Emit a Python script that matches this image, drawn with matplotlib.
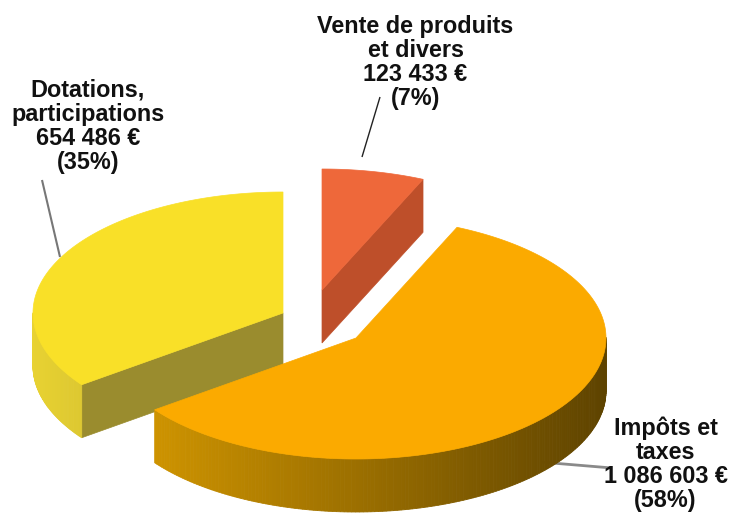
import numpy as np
import matplotlib
matplotlib.use("Agg")
import matplotlib.pyplot as plt
from matplotlib.patches import Polygon
from matplotlib.colors import to_rgb

# Données (sens horaire depuis midi)
categories = ["Vente de produits\net divers", "Impôts et\ntaxes", "Dotations,\nparticipations"]
amounts = [123433, 1086603, 654486]

# Couleurs
top_colors = ["#EE683A", "#FBAA00", "#F9E028"]
side_light = ["#D85A30", "#DA9C00", "#E8D232"]
side_dark = ["#8A3A1E", "#5E4300", "#7A6E1E"]
cut_colors = ["#BE4F2A", "#B07800", "#9A8C2E"]

# Mise en page (pixels) ; y des étiquettes = ligne de base de la dernière ligne
R, RY, DEPTH = 250, 121, 53
centers = [(322, 290), (356, 338), (283, 313)]
label_pos = [(415.5, 105), (665.5, 507), (88, 169)]
leaders = [((380, 97), (362, 157)), ((612, 468), (540, 462)), ((42, 180), (60, 257))]
leader_colors = ["#222222", "#8a8a8a", "#777777"]
leader_widths = [1.0, 2.0, 1.5]


def rim(c, th, dz=0.0):
    return (c[0] + R * np.cos(th), c[1] - RY * np.sin(th) + dz)


def blend(c1, c2, t):
    a, b = np.array(to_rgb(c1)), np.array(to_rgb(c2))
    return tuple(a + (b - a) * t)


def draw_slice(ax, i, a_lo, a_hi):
    c = centers[i]
    # faces coupées visibles
    for a, normal in ((a_lo, a_lo - np.pi / 2), (a_hi, a_hi + np.pi / 2)):
        if np.sin(normal) < -1e-6:
            p = rim(c, a)
            pts = [c, p, (p[0], p[1] + DEPTH), (c[0], c[1] + DEPTH)]
            ax.add_patch(Polygon(pts, closed=True, fc=cut_colors[i], ec=cut_colors[i], lw=0.5, zorder=2))
    # côté extérieur avec dégradé
    th = np.linspace(a_lo, a_hi, 240)
    for t0, t1 in zip(th[:-1], th[1:]):
        mid = (t0 + t1) / 2
        if np.sin(mid) >= 0:
            continue
        col = blend(side_light[i], side_dark[i], (np.cos(mid) + 1) / 2)
        p0, p1 = rim(c, t0), rim(c, t1)
        pts = [p0, p1, (p1[0], p1[1] + DEPTH), (p0[0], p0[1] + DEPTH)]
        ax.add_patch(Polygon(pts, closed=True, fc=col, ec=col, lw=0.6, zorder=2))
    # dessus
    pts = [c] + [rim(c, t) for t in th]
    ax.add_patch(Polygon(pts, closed=True, fc=top_colors[i], ec=top_colors[i], lw=0.5, zorder=2))


fig = plt.figure(figsize=(7.31, 5.13), dpi=100)
ax = fig.add_axes([0, 0, 1, 1])
ax.set_xlim(0, 731)
ax.set_ylim(513, 0)
ax.axis("off")

total = sum(amounts)
spans = [a / total * 2 * np.pi for a in amounts]
starts = np.pi / 2 - np.concatenate([[0], np.cumsum(spans)[:-1]])

# ordre de dessin : de l'arrière vers l'avant
for i in sorted(range(len(amounts)), key=lambda k: centers[k][1]):
    draw_slice(ax, i, starts[i] - spans[i], starts[i])

# traits de rappel sous le camembert
for (p0, p1), col, lw in zip(leaders, leader_colors, leader_widths):
    ax.plot([p0[0], p1[0]], [p0[1], p1[1]], color=col, lw=lw, solid_capstyle="butt", zorder=1)

for name, val, (x, y) in zip(categories, amounts, label_pos):
    pct = round(val / total * 100)
    montant = f"{val:,}".replace(",", " ")
    txt = f"{name}\n{montant} €\n({pct}%)"
    ax.text(x, y, txt, ha="center", va="baseline", multialignment="center",
            fontsize=16.8, fontweight="bold", color="#111111", linespacing=1.06,
            family=["Liberation Sans", "DejaVu Sans"], zorder=3)

fig.savefig("out.png", dpi=100)
